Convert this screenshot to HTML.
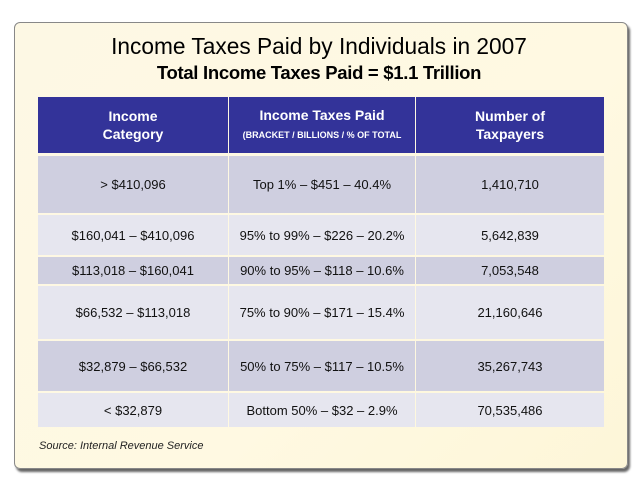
<!DOCTYPE html>
<html><head><style>
body{margin:0;width:640px;height:480px;background:#fff;position:relative;overflow:hidden;font-family:"Liberation Sans",Arial,sans-serif}
.panel{position:absolute;left:14px;top:22px;width:612px;height:445px;border-radius:6px;background:linear-gradient(135deg,#fdf8e4,#fff9e2 60%,#fdf6d8);border:1px solid #888;box-shadow:2px 3px 2px #666}
.t1{position:absolute;left:0;width:638px;top:33px;text-align:center;font-size:22.7px;color:#000}
.t2{position:absolute;left:0;width:638px;top:62px;text-align:center;font-size:18.5px;font-weight:bold;color:#000;letter-spacing:-0.3px}
.c{position:absolute;display:flex;align-items:center;justify-content:center;text-align:center;font-size:13px;color:#111}
.h{background:#333399;color:#fff;font-weight:bold;font-size:14px;line-height:18px;flex-direction:column}
.src{position:absolute;left:39px;top:440px;font-size:11px;font-style:italic;color:#222}
</style></head><body>
<div class="panel"></div>
<div class="t1">Income Taxes Paid by Individuals in 2007</div>
<div class="t2">Total Income Taxes Paid = $1.1 Trillion</div>
<div id="tb"></div>
<div class="src">Source: Internal Revenue Service</div>
<script>
var xs=[38,229,416,604];
var rows=[[97,153],[156,213],[215,255],[257,284],[286,339],[341,391],[393,427]];
var data=[
["Income<br>Category","Income Taxes Paid<br><span style='font-size:9px;font-weight:bold'>(BRACKET / BILLIONS / % OF TOTAL</span>","Number of<br>Taxpayers"],
["&gt; $410,096","Top 1% – $451 – 40.4%","1,410,710"],
["$160,041 – $410,096","95% to 99% – $226 –  20.2%","5,642,839"],
["$113,018  – $160,041","90% to 95% – $118 – 10.6%","7,053,548"],
["$66,532 – $113,018","75% to 90% – $171 – 15.4%","21,160,646"],
["$32,879 – $66,532","50% to 75% – $117 – 10.5%","35,267,743"],
["&lt; $32,879","Bottom 50% – $32 – 2.9%","70,535,486"]];
var h="";
for(var r=0;r<7;r++)for(var c=0;c<3;c++){
var bg=r==0?"":"background:"+(r%2?"#cfcfe0":"#e6e6ef")+";";
h+="<div class='c"+(r==0?" h":"")+"' style='"+bg+"left:"+xs[c]+"px;top:"+rows[r][0]+"px;width:"+(xs[c+1]-xs[c]-(c<2?1:0))+"px;height:"+(rows[r][1]-rows[r][0])+"px'>"+(r==0?"<div>"+data[r][c]+"</div>":data[r][c])+"</div>";}
document.getElementById("tb").innerHTML=h;
</script>
</body></html>
